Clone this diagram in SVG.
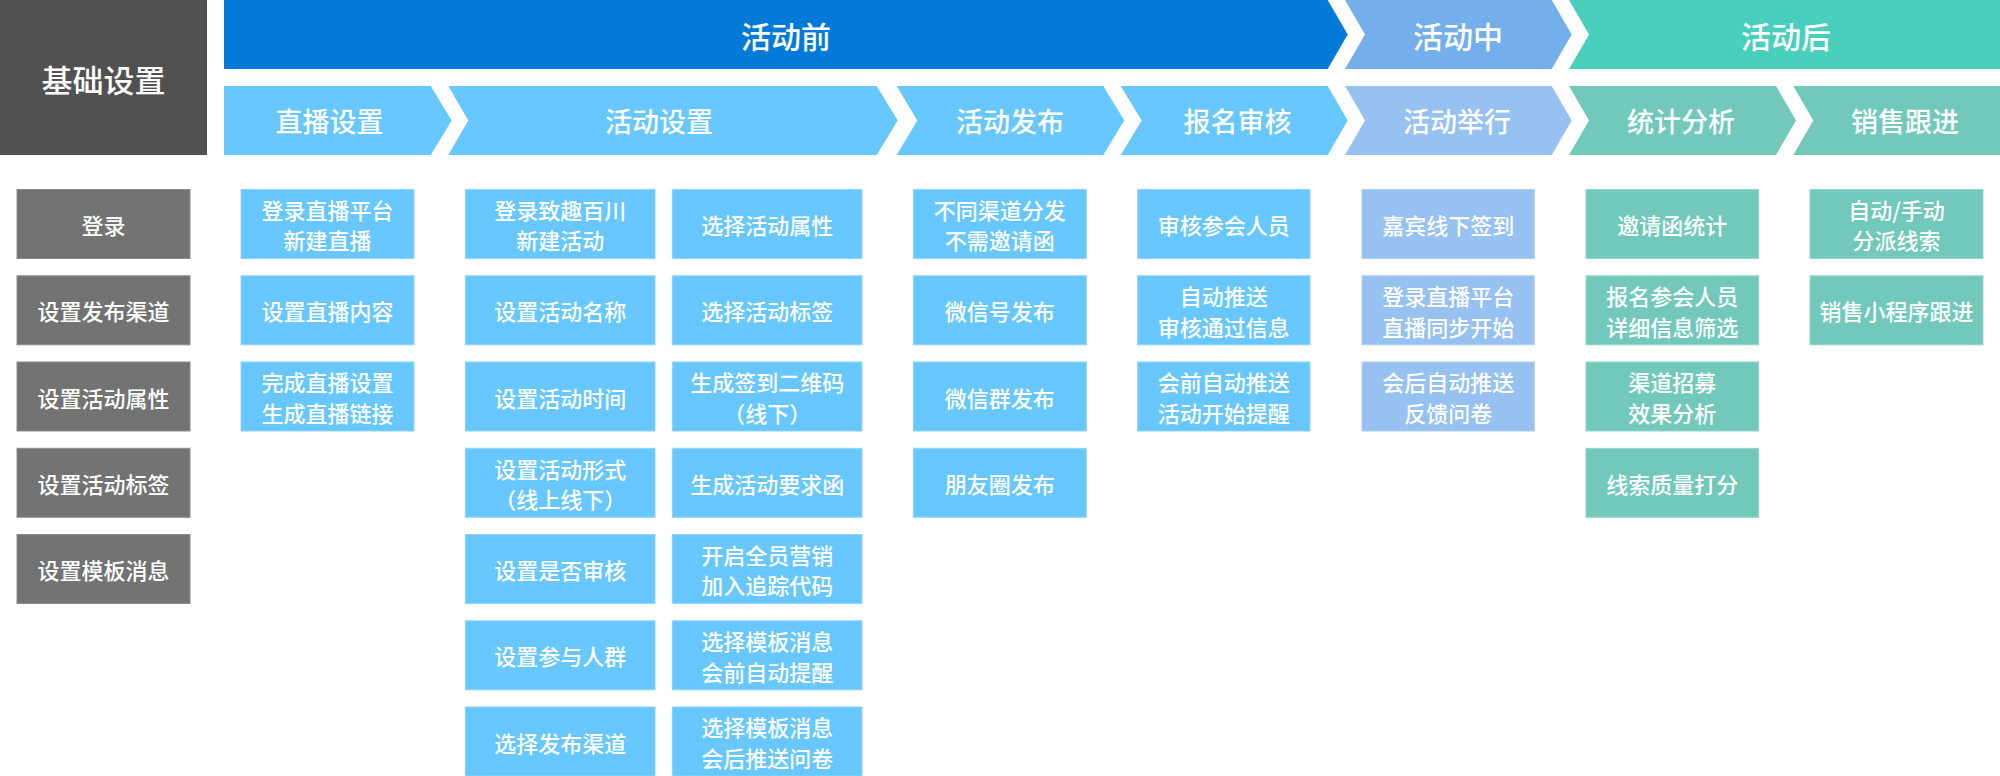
<svg xmlns="http://www.w3.org/2000/svg" width="2000" height="776" viewBox="0 0 2000 776">
<style>
text{font-family:"Noto Sans CJK SC","Noto Sans",sans-serif;font-weight:500;fill:#fff;text-anchor:middle;dominant-baseline:central}
.h1{font-size:30px}
.h2{font-size:27px}
.t{font-size:22px}
.base{fill:#515151}
.gray{fill:#737373;stroke:#8c8c8c;stroke-width:1}
.blue{fill:#67C7FE;stroke:#8ED5FF;stroke-width:1}
.lav{fill:#96C1F1;stroke:#ADCFF5;stroke-width:1}
.teal{fill:#72C9BB;stroke:#92D6CB;stroke-width:1}
</style>
<rect width="2000" height="776" fill="#fff"/>

<g id="base-header">
<rect class="base" x="0" y="0" width="207" height="155"/>
<text x="103.5" y="78.5" style="font-size:31px">基础设置</text>
</g>

<g id="phase-before">
<path d="M224,0 H1327.7 L1347.7,34.5 L1327.7,69 H224 Z" fill="#047AD8"/>
<text class="h1" x="786" y="35">活动前</text>
</g>
<g id="phase-during">
<path d="M1345,0 H1551.7 L1571.7,34.5 L1551.7,69 H1345 L1365,34.5 Z" fill="#74AFEB"/>
<text class="h1" x="1458" y="35">活动中</text>
</g>
<g id="phase-after">
<path d="M1569,0 H2000 V69 H1569 L1589,34.5 Z" fill="#49CFBC"/>
<text class="h1" x="1786" y="35">活动后</text>
</g>

<g id="step-live">
<path d="M224,86 H430.7 L451.7,120.5 L430.7,155 H224 Z" fill="#67C7FE"/>
<text class="h2" x="329.5" y="120.7">直播设置</text>
</g>
<g id="step-setup">
<path d="M448.3,86 H876.7 L897.7,120.5 L876.7,155 H448.3 L468.3,120.5 Z" fill="#67C7FE"/>
<text class="h2" x="659" y="120.7">活动设置</text>
</g>
<g id="step-publish">
<path d="M896.7,86 H1103.3 L1124.3,120.5 L1103.3,155 H896.7 L917.3,120.5 Z" fill="#67C7FE"/>
<text class="h2" x="1010" y="120.7">活动发布</text>
</g>
<g id="step-review">
<path d="M1120.7,86 H1327.7 L1347.7,120.5 L1327.7,155 H1120.7 L1141.7,120.5 Z" fill="#67C7FE"/>
<text class="h2" x="1237.5" y="120.7">报名审核</text>
</g>
<g id="step-hold">
<path d="M1345,86 H1551.7 L1571.7,120.5 L1551.7,155 H1345 L1365,120.5 Z" fill="#96C1F1"/>
<text class="h2" x="1457" y="120.7">活动举行</text>
</g>
<g id="step-stats">
<path d="M1569,86 H1776 L1796,120.5 L1776,155 H1569 L1589,120.5 Z" fill="#72C9BB"/>
<text class="h2" x="1681" y="120.7">统计分析</text>
</g>
<g id="step-sales">
<path d="M1793.3,86 H2000 V155 H1793.3 L1813.3,120.5 Z" fill="#72C9BB"/>
<text class="h2" x="1905" y="120.7">销售跟进</text>
</g>

<g id="connectors"></g>

<!-- 基础设置 column -->
<g id="b1"><rect class="gray" x="17" y="189.5" width="173" height="69"/><text class="t" x="103.5" y="224">登录</text></g>
<g id="b2"><rect class="gray" x="17" y="275.8" width="173" height="69"/><text class="t" x="103.5" y="310.3">设置发布渠道</text></g>
<g id="b3"><rect class="gray" x="17" y="362" width="173" height="69"/><text class="t" x="103.5" y="396.5">设置活动属性</text></g>
<g id="b4"><rect class="gray" x="17" y="448.3" width="173" height="69"/><text class="t" x="103.5" y="482.8">设置活动标签</text></g>
<g id="b5"><rect class="gray" x="17" y="534.5" width="173" height="69"/><text class="t" x="103.5" y="569">设置模板消息</text></g>

<!-- 直播设置 column -->
<g id="l1"><rect class="blue" x="241" y="189.5" width="173" height="69"/><text class="t" x="327.5" y="208.7">登录直播平台</text><text class="t" x="327.5" y="239.3">新建直播</text></g>
<g id="l2"><rect class="blue" x="241" y="275.8" width="173" height="69"/><text class="t" x="327.5" y="310.3">设置直播内容</text></g>
<g id="l3"><rect class="blue" x="241" y="362" width="173" height="69"/><text class="t" x="327.5" y="381.2">完成直播设置</text><text class="t" x="327.5" y="411.8">生成直播链接</text></g>

<!-- 活动设置 column A -->
<g id="sa1"><rect class="blue" x="465.3" y="189.5" width="189.7" height="69"/><text class="t" x="560.2" y="208.7">登录致趣百川</text><text class="t" x="560.2" y="239.3">新建活动</text></g>
<g id="sa2"><rect class="blue" x="465.3" y="275.8" width="189.7" height="69"/><text class="t" x="560.2" y="310.3">设置活动名称</text></g>
<g id="sa3"><rect class="blue" x="465.3" y="362" width="189.7" height="69"/><text class="t" x="560.2" y="396.5">设置活动时间</text></g>
<g id="sa4"><rect class="blue" x="465.3" y="448.3" width="189.7" height="69"/><text class="t" x="560.2" y="467.5">设置活动形式</text><text class="t" x="560.2" y="498.1">（线上线下）</text></g>
<g id="sa5"><rect class="blue" x="465.3" y="534.5" width="189.7" height="69"/><text class="t" x="560.2" y="569">设置是否审核</text></g>
<g id="sa6"><rect class="blue" x="465.3" y="620.8" width="189.7" height="69"/><text class="t" x="560.2" y="655.3">设置参与人群</text></g>
<g id="sa7"><rect class="blue" x="465.3" y="707" width="189.7" height="69"/><text class="t" x="560.2" y="741.5">选择发布渠道</text></g>

<!-- 活动设置 column B -->
<g id="sb1"><rect class="blue" x="672.3" y="189.5" width="189.7" height="69"/><text class="t" x="767.2" y="224">选择活动属性</text></g>
<g id="sb2"><rect class="blue" x="672.3" y="275.8" width="189.7" height="69"/><text class="t" x="767.2" y="310.3">选择活动标签</text></g>
<g id="sb3"><rect class="blue" x="672.3" y="362" width="189.7" height="69"/><text class="t" x="767.2" y="381.2">生成签到二维码</text><text class="t" x="767.2" y="411.8">（线下）</text></g>
<g id="sb4"><rect class="blue" x="672.3" y="448.3" width="189.7" height="69"/><text class="t" x="767.2" y="482.8">生成活动要求函</text></g>
<g id="sb5"><rect class="blue" x="672.3" y="534.5" width="189.7" height="69"/><text class="t" x="767.2" y="553.7">开启全员营销</text><text class="t" x="767.2" y="584.3">加入追踪代码</text></g>
<g id="sb6"><rect class="blue" x="672.3" y="620.8" width="189.7" height="69"/><text class="t" x="767.2" y="640">选择模板消息</text><text class="t" x="767.2" y="670.6">会前自动提醒</text></g>
<g id="sb7"><rect class="blue" x="672.3" y="707" width="189.7" height="69"/><text class="t" x="767.2" y="726.2">选择模板消息</text><text class="t" x="767.2" y="756.8">会后推送问卷</text></g>

<!-- 活动发布 column -->
<g id="p1"><rect class="blue" x="913.3" y="189.5" width="173" height="69"/><text class="t" x="999.8" y="208.7">不同渠道分发</text><text class="t" x="999.8" y="239.3">不需邀请函</text></g>
<g id="p2"><rect class="blue" x="913.3" y="275.8" width="173" height="69"/><text class="t" x="999.8" y="310.3">微信号发布</text></g>
<g id="p3"><rect class="blue" x="913.3" y="362" width="173" height="69"/><text class="t" x="999.8" y="396.5">微信群发布</text></g>
<g id="p4"><rect class="blue" x="913.3" y="448.3" width="173" height="69"/><text class="t" x="999.8" y="482.8">朋友圈发布</text></g>

<!-- 报名审核 column -->
<g id="r1"><rect class="blue" x="1137.7" y="189.5" width="172.3" height="69"/><text class="t" x="1223.8" y="224">审核参会人员</text></g>
<g id="r2"><rect class="blue" x="1137.7" y="275.8" width="172.3" height="69"/><text class="t" x="1223.8" y="295">自动推送</text><text class="t" x="1223.8" y="325.6">审核通过信息</text></g>
<g id="r3"><rect class="blue" x="1137.7" y="362" width="172.3" height="69"/><text class="t" x="1223.8" y="381.2">会前自动推送</text><text class="t" x="1223.8" y="411.8">活动开始提醒</text></g>

<!-- 活动举行 column -->
<g id="h1"><rect class="lav" x="1362" y="189.5" width="172.3" height="69"/><text class="t" x="1448.2" y="224">嘉宾线下签到</text></g>
<g id="h2"><rect class="lav" x="1362" y="275.8" width="172.3" height="69"/><text class="t" x="1448.2" y="295">登录直播平台</text><text class="t" x="1448.2" y="325.6">直播同步开始</text></g>
<g id="h3"><rect class="lav" x="1362" y="362" width="172.3" height="69"/><text class="t" x="1448.2" y="381.2">会后自动推送</text><text class="t" x="1448.2" y="411.8">反馈问卷</text></g>

<!-- 统计分析 column -->
<g id="s1"><rect class="teal" x="1586" y="189.5" width="172.7" height="69"/><text class="t" x="1672.3" y="224">邀请函统计</text></g>
<g id="s2"><rect class="teal" x="1586" y="275.8" width="172.7" height="69"/><text class="t" x="1672.3" y="295">报名参会人员</text><text class="t" x="1672.3" y="325.6">详细信息筛选</text></g>
<g id="s3"><rect class="teal" x="1586" y="362" width="172.7" height="69"/><text class="t" x="1672.3" y="381.2">渠道招募</text><text class="t" x="1672.3" y="411.8">效果分析</text></g>
<g id="s4"><rect class="teal" x="1586" y="448.3" width="172.7" height="69"/><text class="t" x="1672.3" y="482.8">线索质量打分</text></g>

<!-- 销售跟进 column -->
<g id="f1"><rect class="teal" x="1810" y="189.5" width="173" height="69"/><text class="t" x="1896.5" y="208.7">自动/手动</text><text class="t" x="1896.5" y="239.3">分派线索</text></g>
<g id="f2"><rect class="teal" x="1810" y="275.8" width="173" height="69"/><text class="t" x="1896.5" y="310.3">销售小程序跟进</text></g>
</svg>
